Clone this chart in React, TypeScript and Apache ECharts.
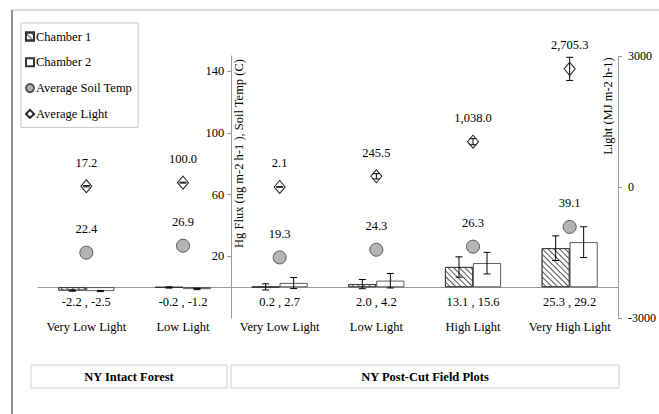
import React, { useEffect, useRef } from 'react';
import * as echarts from 'echarts';

const categories = ['Very Low Light', 'Low Light', 'Very Low Light', 'Low Light', 'High Light', 'Very High Light'];
const chamber1 = [-2.2, -0.2, 0.2, 2.0, 13.1, 25.3];
const chamber2 = [-2.5, -1.2, 2.7, 4.2, 15.6, 29.2];
const chamber1Err = [0.4, 0.4, 2.0, 3.0, 6.6, 8.0];
const chamber2Err = [0.4, 0.4, 3.6, 4.7, 7.0, 10.0];
const soilTemp = [22.4, 26.9, 19.3, 24.3, 26.3, 39.1];
const light = [17.2, 100.0, 2.1, 245.5, 1038.0, 2705.3];
const lightErr = [15, 10, 5, 60, 70, 265];
const fluxTicks = [20, 60, 100, 140];
const groups = ['NY Intact Forest', 'NY Post-Cut Field Plots'];
const fluxAxisName = 'Hg Flux (ng m-2 h-1 ), Soil Temp (C)';
const lightAxisName = 'Light (MJ m-2 h-1)';

const FONT = 'Liberation Serif';

function makeErr(dx: number) {
  return (params: any, api: any) => {
    const lo = api.coord([api.value(0), api.value(1)]);
    const hi = api.coord([api.value(0), api.value(2)]);
    const x = lo[0] + dx;
    const cap = 3.5;
    const style = { stroke: '#000', lineWidth: 1 };
    return {
      type: 'group',
      children: [
        { type: 'line', shape: { x1: x, y1: lo[1], x2: x, y2: hi[1] }, style },
        { type: 'line', shape: { x1: x - cap, y1: lo[1], x2: x + cap, y2: lo[1] }, style },
        { type: 'line', shape: { x1: x - cap, y1: hi[1], x2: x + cap, y2: hi[1] }, style },
      ],
    };
  };
}

const fmt1 = (v: number) => v.toFixed(1);

export default function App() {
  const ref = useRef<HTMLDivElement>(null);
  useEffect(() => {
    if (!ref.current) return;
    const chart = echarts.init(ref.current, null, { renderer: 'svg' });
    const txt = (text: string, x: number, y: number, extra: any = {}) => ({
      type: 'text',
      x,
      y,
      ...extra,
      style: {
        text,
        fill: '#000',
        fontFamily: FONT,
        fontSize: 12.5,
        align: 'center',
        verticalAlign: 'middle',
        ...(extra.style || {}),
      },
    });
    const option: any = {
      animation: false,
      backgroundColor: '#fff',
      textStyle: { fontFamily: FONT },
      grid: { left: 38, right: 41, top: 56, bottom: 96 },
      legend: {
        orient: 'vertical',
        left: 21,
        top: 23,
        padding: [7, 6, 7, 4],
        itemGap: 12.8,
        itemWidth: 8,
        itemHeight: 8,
        borderColor: '#c8c8c8',
        borderWidth: 1,
        selectedMode: false,
        textStyle: { fontFamily: FONT, fontSize: 12.5, color: '#000', padding: [0, 0, 0, -3] },
        data: [
          { name: 'Chamber 1', icon: 'rect' },
          { name: 'Chamber 2', icon: 'rect' },
          { name: 'Average Soil Temp', icon: 'circle' },
          { name: 'Average Light', icon: 'diamond' },
        ],
      },
      xAxis: {
        type: 'category',
        data: categories,
        axisLine: { onZero: true, onZeroAxisIndex: 0, lineStyle: { color: '#9a9a9a' } },
        axisTick: { inside: true, length: 4, lineStyle: { color: '#9a9a9a' } },
        axisLabel: {
          interval: 0,
          margin: -22,
          lineHeight: 12.5,
          fontSize: 12.5,
          color: '#000',
          fontFamily: FONT,
          formatter: (v: string, i: number) => `${fmt1(chamber1[i])} , ${fmt1(chamber2[i])}\n\n${v}`,
        },
      },
      yAxis: [
        {
          type: 'value',
          min: -20,
          max: 150,
          position: 'left',
          offset: -193.33,
          axisLine: { show: true, lineStyle: { color: '#9a9a9a' } },
          axisTick: { show: true, length: 4, customValues: fluxTicks, lineStyle: { color: '#9a9a9a' } },
          axisLabel: { customValues: fluxTicks, margin: 7, fontSize: 12.5, color: '#000', fontFamily: FONT },
          splitLine: { show: false },
        },
        {
          type: 'value',
          min: -3000,
          max: 3000,
          interval: 3000,
          position: 'right',
          axisLine: { show: true, lineStyle: { color: '#9a9a9a' } },
          axisTick: { show: true, length: 4, lineStyle: { color: '#9a9a9a' } },
          axisLabel: {
            margin: 10,
            fontSize: 12,
            color: '#000',
            fontFamily: FONT,
            formatter: (v: number) => String(v),
          },
          splitLine: { show: false },
        },
      ],
      series: [
        {
          name: 'Chamber 1',
          type: 'bar',
          data: chamber1,
          barWidth: 28,
          barGap: '0%',
          itemStyle: {
            color: '#fff',
            borderColor: '#333',
            borderWidth: 0.8,
            decal: {
              symbol: 'rect',
              symbolSize: 1,
              dashArrayX: [1, 0],
              dashArrayY: [0.9, 2.1],
              rotation: Math.PI / 4,
              color: '#555',
            },
          },
        },
        {
          name: 'Chamber 2',
          type: 'bar',
          data: chamber2,
          barWidth: 28,
          barGap: '0%',
          itemStyle: { color: '#fff', borderColor: '#333', borderWidth: 0.8 },
        },
        {
          name: 'err1',
          type: 'custom',
          data: chamber1.map((v, i) => [i, v - chamber1Err[i], v + chamber1Err[i]]),
          encode: { x: 0, y: [1, 2] },
          renderItem: makeErr(-14),
          z: 10,
        },
        {
          name: 'err2',
          type: 'custom',
          data: chamber2.map((v, i) => [i, v - chamber2Err[i], v + chamber2Err[i]]),
          encode: { x: 0, y: [1, 2] },
          renderItem: makeErr(14),
          z: 10,
        },
        {
          name: 'Average Soil Temp',
          type: 'scatter',
          data: soilTemp,
          symbol: 'circle',
          symbolSize: 13,
          itemStyle: { color: '#b4b4b4', borderColor: '#555', borderWidth: 1, opacity: 1 },
          label: {
            show: true,
            position: 'top',
            distance: 10,
            color: '#000',
            fontSize: 12.5,
            fontFamily: FONT,
            formatter: (p: any) => fmt1(p.value),
          },
          z: 5,
        },
        {
          name: 'errLight',
          type: 'custom',
          yAxisIndex: 1,
          data: light.map((v, i) => [i, v - lightErr[i], v + lightErr[i]]),
          encode: { x: 0, y: [1, 2] },
          renderItem: makeErr(0),
          z: 10,
        },
        {
          name: 'Average Light',
          type: 'scatter',
          yAxisIndex: 1,
          data: light,
          symbol: 'diamond',
          symbolSize: [11, 13],
          itemStyle: { color: 'rgba(255,255,255,0)', borderColor: '#222', borderWidth: 1, opacity: 1 },
          label: {
            show: true,
            position: 'top',
            distance: 10,
            color: '#000',
            fontSize: 12.5,
            fontFamily: FONT,
            formatter: (p: any) =>
              p.value.toLocaleString('en-US', { minimumFractionDigits: 1, maximumFractionDigits: 1 }),
          },
          z: 11,
        },
      ],
      graphic: [
        { type: 'line', shape: { x1: 12, y1: 10, x2: 659, y2: 10 }, style: { stroke: '#cfcfcf', lineWidth: 1.5 } },
        { type: 'line', shape: { x1: 12, y1: 10, x2: 12, y2: 414 }, style: { stroke: '#8f8f8f', lineWidth: 2 } },
        txt(fluxAxisName, 239, 153.5, { rotation: Math.PI / 2 }),
        txt(lightAxisName, 608, 106, { rotation: Math.PI / 2 }),
        { type: 'rect', shape: { x: 31, y: 365, width: 196, height: 23 }, style: { fill: '#fff', stroke: '#cfcfcf', lineWidth: 1 } },
        txt(groups[0], 129, 376.5, { style: { fontWeight: 'bold' } }),
        { type: 'rect', shape: { x: 231, y: 365, width: 388, height: 23 }, style: { fill: '#fff', stroke: '#cfcfcf', lineWidth: 1 } },
        txt(groups[1], 425, 376.5, { style: { fontWeight: 'bold' } }),
      ],
    };
    chart.setOption(option);
    return () => chart.dispose();
  }, []);
  return (
    <div
      ref={ref}
      style={{ position: 'absolute', left: 0, top: 0, width: 659, height: 414, background: '#fff' }}
    />
  );
}
